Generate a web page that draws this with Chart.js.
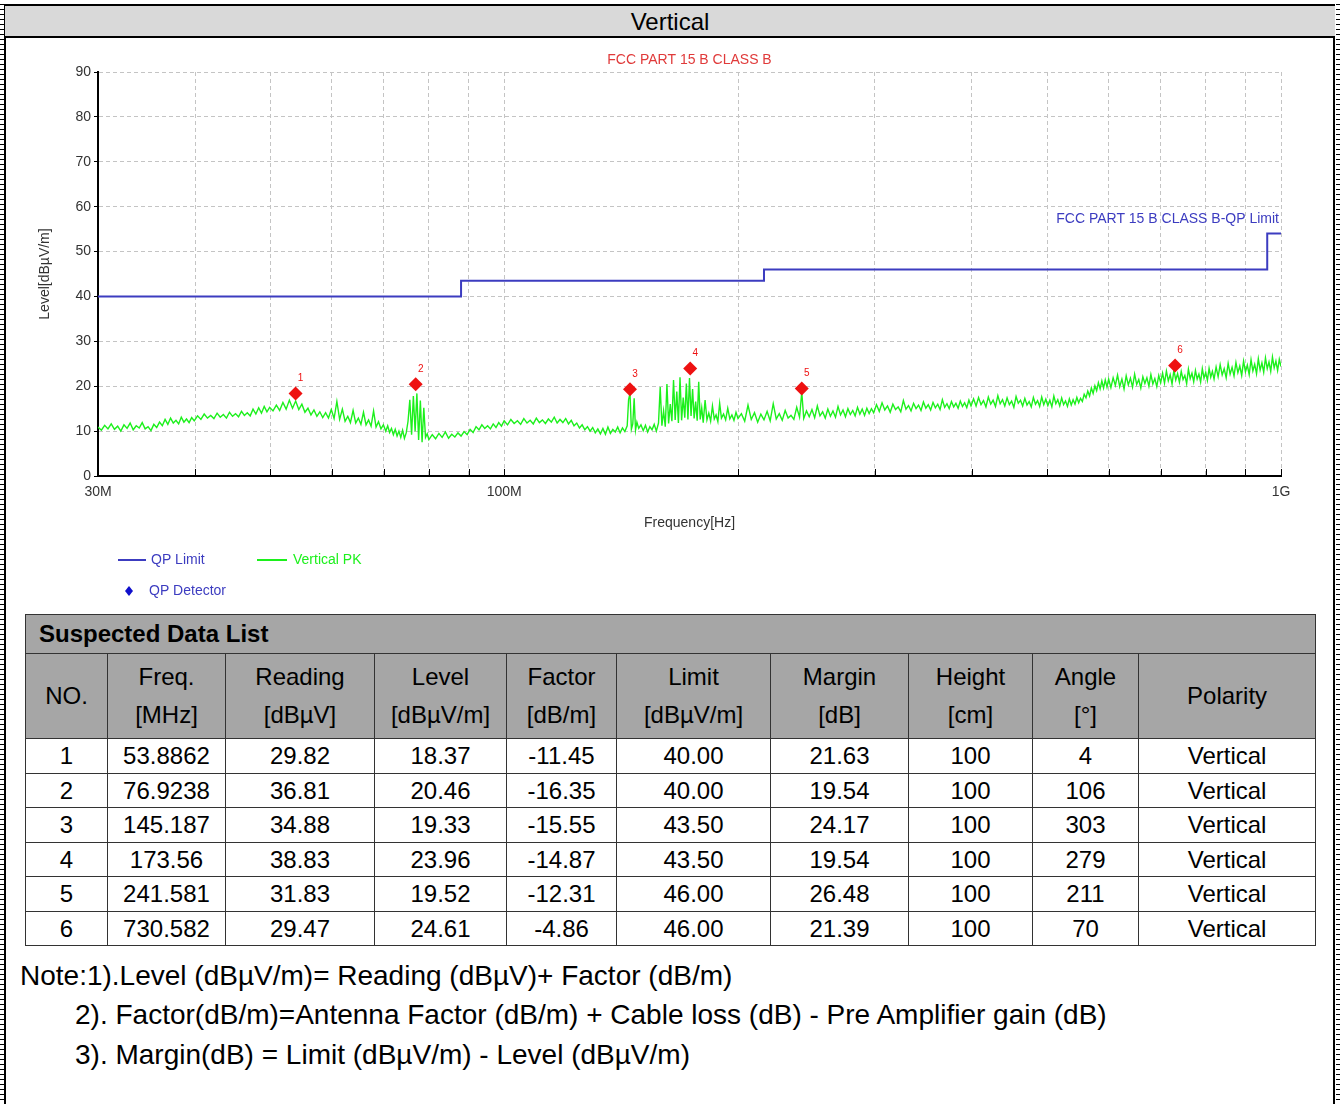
<!DOCTYPE html>
<html>
<head>
<meta charset="utf-8">
<script src="https://cdn.jsdelivr.net/npm/chart.js@4.4.0/dist/chart.umd.min.js"></script>
<style>
body { margin:0; width:1341px; height:1104px; position:relative; background:#fff; overflow:hidden;
       font-family:"Liberation Sans", Arial, sans-serif; color:#000; }
.edge { position:absolute; top:4px; width:2px; height:1100px; background:#000; }
.dash { position:absolute; top:4px; width:4px; height:1100px;
        background:repeating-linear-gradient(to bottom, #000 0 1px, transparent 1px 5px); }
#head { position:absolute; left:5px; top:4px; width:1330px; height:30px; background:#d9d9d9;
        border-top:2px solid #000; border-bottom:2px solid #000; text-align:center;
        font-size:24px; line-height:31px; }
#chart { position:absolute; left:0; top:38px; }
#list { position:absolute; left:25px; top:614px; width:1290px; border-collapse:collapse;
        table-layout:fixed; font-size:24px; }
#list th, #list td { border:1px solid #333; text-align:center; padding:0; font-weight:normal; }
#list .cap { background:#a6a6a6; height:38px; text-align:left; font-weight:bold; padding-left:13px; }
#list .hd th { background:#a6a6a6; height:84px; line-height:38px; }
#list tbody td { height:33.5px; line-height:33px; }
.note { position:absolute; font-size:28px; line-height:40px; white-space:nowrap; }
</style>
</head>
<body>
<div class="dash" style="left:0"></div>
<div class="edge" style="left:4px"></div>
<div class="edge" style="left:1333px"></div>
<div class="dash" style="left:1336px"></div>
<div id="head">Vertical</div>
<canvas id="chart" width="1341" height="570"></canvas>
<table id="list">
  <colgroup>
    <col style="width:82px"><col style="width:118px"><col style="width:149px"><col style="width:132px">
    <col style="width:110px"><col style="width:154px"><col style="width:138px"><col style="width:124px">
    <col style="width:106px"><col style="width:177px">
  </colgroup>
  <thead>
    <tr><th class="cap" colspan="10">Suspected Data List</th></tr>
    <tr class="hd" id="hdRow"></tr>
  </thead>
  <tbody id="rows"></tbody>
</table>
<div class="note" style="left:20px; top:956px">Note:1).Level (dBµV/m)= Reading (dBµV)+ Factor (dB/m)</div>
<div class="note" style="left:75px; top:995px">2). Factor(dB/m)=Antenna Factor (dB/m) + Cable loss (dB) - Pre Amplifier gain (dB)</div>
<div class="note" style="left:75px; top:1035px">3). Margin(dB) = Limit (dBµV/m) - Level (dBµV/m)</div>

<script>
// Suspected data list (QP detector results)
const tblNo = [1, 2, 3, 4, 5, 6];
const tblFreq = ['53.8862', '76.9238', '145.187', '173.56', '241.581', '730.582'];
const tblReading = ['29.82', '36.81', '34.88', '38.83', '31.83', '29.47'];
const tblLevel = ['18.37', '20.46', '19.33', '23.96', '19.52', '24.61'];
const tblFactor = ['-11.45', '-16.35', '-15.55', '-14.87', '-12.31', '-4.86'];
const tblLimit = ['40.00', '40.00', '43.50', '43.50', '46.00', '46.00'];
const tblMargin = ['21.63', '19.54', '24.17', '19.54', '26.48', '21.39'];
const tblHeight = ['100', '100', '100', '100', '100', '100'];
const tblAngle = ['4', '106', '303', '279', '211', '70'];
const tblPolarity = ['Vertical', 'Vertical', 'Vertical', 'Vertical', 'Vertical', 'Vertical'];
const tblHeaders = ['NO.', 'Freq.<br>[MHz]', 'Reading<br>[dBµV]', 'Level<br>[dBµV/m]', 'Factor<br>[dB/m]',
                    'Limit<br>[dBµV/m]', 'Margin<br>[dB]', 'Height<br>[cm]', 'Angle<br>[°]', 'Polarity'];

// QP limit line (FCC part 15 B class B)
const limitFreq = [30, 88, 88, 216, 216, 960, 960, 1000];
const limitLevel = [40, 40, 43.5, 43.5, 46, 46, 54, 54];

// axis ticks
const xGridMHz = [30, 40, 50, 60, 70, 80, 90, 100, 200, 300, 400, 500, 600, 700, 800, 900, 1000];
const xTickText = {30: '30M', 100: '100M', 1000: '1G'};
const yTicks = [0, 10, 20, 30, 40, 50, 60, 70, 80, 90];

// Vertical PK sweep [MHz, dBuV/m]
const pkTrace = [
  [30.0,10.9],[30.3,10.2],[30.6,11.3],[30.9,10.5],[31.2,11.6],[31.5,10.4],[31.8,11.1],[32.1,10.0],[32.4,11.4],[32.7,10.6],
  [33.0,11.8],[33.3,10.3],[33.6,11.2],[33.9,10.7],[34.2,11.9],[34.5,10.5],[34.8,11.0],[35.1,10.1],[35.4,11.5],[35.7,10.8],
  [36.0,12.0],[36.3,11.2],[36.6,12.6],[36.9,11.5],[37.2,12.9],[37.5,11.8],[37.8,12.4],[38.1,11.6],[38.4,13.1],[38.7,12.0],
  [39.0,12.7],[39.3,11.9],[39.6,13.0],[39.9,12.3],
  [40.3,13.4],[40.7,12.6],[41.1,13.8],[41.5,12.9],[41.9,13.5],[42.3,12.8],[42.7,14.0],[43.1,13.1],[43.5,13.7],[43.9,12.9],
  [44.3,14.2],[44.7,13.3],[45.1,13.9],[45.5,13.2],[45.9,14.4],[46.3,13.5],[46.7,14.1],[47.1,13.4],[47.5,14.9],[47.9,13.8],
  [48.3,15.2],[48.7,14.0],[49.1,15.5],[49.5,14.3],[49.9,15.3],
  [50.4,14.5],[50.9,15.8],[51.4,14.6],[51.9,16.4],[52.4,14.9],[52.9,16.9],[53.4,15.1],[53.9,16.7],[54.4,14.8],[54.9,16.0],
  [55.4,14.2],[55.9,15.1],[56.4,13.6],[56.9,14.7],[57.4,13.3],[57.9,14.3],[58.4,13.0],[58.9,14.1],[59.4,12.9],[59.9,14.8],
  [60.4,12.8],[60.9,16.6],[61.4,12.6],[61.9,14.9],[62.4,12.2],[62.9,13.3],[63.4,11.9],[63.9,14.6],[64.4,11.8],[64.9,12.9],
  [65.4,11.5],[65.9,14.2],[66.4,11.4],[66.9,12.5],[67.4,11.1],[67.9,14.5],[68.4,10.9],[68.9,12.1],[69.4,10.5],[69.9,11.4],
  [70.4,10.0],[70.8,11.2],[71.2,9.7],[71.6,10.6],[72.0,9.2],[72.4,10.4],[72.8,8.9],[73.2,10.0],[73.6,8.6],[74.0,10.2],
  [74.4,8.4],[74.8,9.6],[75.2,12.2],[75.6,17.0],[76.0,9.2],[76.4,17.8],[76.8,10.0],[77.2,18.4],[77.6,8.0],[78.0,16.8],
  [78.4,7.5],[78.8,15.2],[79.2,8.6],[79.6,9.4],[80.0,8.1],
  [80.8,9.2],[81.6,8.3],[82.4,9.5],[83.2,8.6],[84.0,9.8],[84.8,8.4],[85.6,9.3],[86.4,8.7],[87.2,9.6],[88.0,8.9],
  [88.8,9.9],[89.6,9.2],[90.4,10.4],[91.2,9.7],[92.0,11.0],[92.8,10.3],[93.6,11.4],[94.4,10.6],[95.2,11.2],[96.0,10.5],
  [96.8,11.6],[97.6,10.8],[98.4,11.9],[99.2,11.1],[100.0,12.3],
  [101,11.4],[102,12.6],[103,11.7],[104,12.3],[105,11.5],[106,12.8],[107,11.8],[108,12.4],[109,11.6],[110,12.9],
  [111,11.9],[112,12.5],[113,11.7],[114,12.7],[115,12.0],[116,13.1],[117,11.8],[118,12.6],[119,11.9],[120,12.8],
  [121,11.6],[122,12.4],[123,11.2],[124,11.8],[125,10.7],[126,11.4],[127,10.3],[128,11.0],[129,10.0],[130,10.8],
  [131,9.6],[132,10.5],[133,9.4],[134,10.6],[135,9.3],[136,10.9],[137,9.5],[138,10.4],[139,9.8],[140,10.9],
  [141,9.6],[142,10.7],[143,9.9],[144,11.2],
  [144.6,17.0],[145.2,18.4],[145.8,10.4],[146.4,11.6],[147.0,17.3],[147.6,10.2],[148.2,12.0],[149.0,10.6],[150,11.4],
  [151,10.1],[152,11.3],[153,9.8],[154,11.0],[155,10.3],[156,11.5],[157,10.0],[158,11.8],
  [158.8,19.8],[159.6,11.2],[160.4,14.5],[161.2,11.0],[162,20.5],[162.8,11.7],[163.6,16.0],[164.4,12.2],[165.2,21.4],
  [166,12.5],[166.8,18.8],[167.6,11.8],[168.4,22.0],[169.2,12.4],[170,17.5],[170.8,13.0],[171.6,20.6],[172.4,12.6],
  [173.2,21.8],[174,13.4],[174.8,19.4],[175.6,12.8],
  [176.4,16.6],[177.2,12.3],[178,21.0],[178.8,12.6],[179.6,15.2],[180.4,11.9],[181.4,16.9],[182.4,12.5],[183.4,14.0],
  [184.4,12.2],[185.4,15.6],[186.4,12.7],[187.4,13.6],[188.4,12.1],[189.4,16.2],[190.4,12.9],
  [191.6,13.8],[192.8,12.5],[194,15.1],[195.2,12.7],[196.4,13.6],[197.6,12.4],[198.8,14.2],[200,12.8],
  [202,13.9],[204,12.2],[206,15.8],[208,12.6],[210,14.1],[212,12.0],[214,13.8],[216,12.5],[218,14.4],[220,12.3],
  [222,16.1],[224,12.7],[226,13.9],[228,12.4],[230,14.6],[232,12.9],[234,13.5],[236,12.6],[238,15.3],[240,13.1],
  [241.6,18.7],[243,12.8],[245,14.5],[247,13.2],[249,14.8],[251,13.0],[253,15.6],[255,13.4],[257,14.3],[259,12.9],
  [261,14.9],[263,13.3],[265,14.5],[267,13.1],[269,15.5],[271,13.6],[273,14.7],[275,13.2],[277,15.0],[279,13.7],
  [281,14.6],[283,13.4],[285,15.3],[287,13.8],[289,14.9],[291,13.5],[293,15.1],[295,13.9],[297,15.0],[299,14.1],
  [301.5,15.9],[304,14.4],[306.5,16.3],[309,14.7],[311.5,15.6],[314,14.2],[316.5,16.0],[319,14.8],[321.5,15.4],[324,14.3],
  [326.5,16.8],[329,14.9],[331.5,15.7],[334,14.5],[336.5,16.2],[339,15.0],[341.5,15.8],[344,14.6],[346.5,16.5],[349,15.1],
  [351.5,15.9],[354,14.7],[356.5,16.4],[359,15.2],[361.5,16.0],[364,14.8],[366.5,17.0],[369,15.3],[371.5,16.1],[374,15.0],
  [376.5,16.6],[379,15.4],[381.5,16.2],[384,15.1],[386.5,16.7],[389,15.5],[391.5,16.3],[394,15.2],[396.5,16.9],[399,15.6],
  [402,17.2],[405,15.6],[408,17.5],[411,15.9],[414,16.8],[417,15.4],[420,17.6],[423,16.0],[426,16.9],[429,15.5],
  [432,17.9],[435,16.1],[438,17.0],[441,15.6],[444,17.4],[447,15.9],[450,16.7],[453,15.3],[456,17.7],[459,16.2],
  [462,16.9],[465,15.6],[468,17.3],[471,15.8],[474,16.6],[477,15.4],[480,17.5],[483,16.0],[486,16.8],[489,15.5],
  [492,17.6],[495,15.9],[498,17.1],[501,15.7],[504,16.9],[507,15.4],[510,17.8],[513,16.1],[516,17.0],[519,15.6],
  [522,17.4],[525,15.9],[528,16.7],[531,15.5],[534,17.2],[537,15.8],[540,17.0],[543,16.0],[546,17.5],[549,16.3],
  [552,17.3],[555,16.6],[558,18.2],
  [561,17.4],[564,18.9],[567,17.8],[570,19.6],[573,18.4],[576,20.1],[579,19.0],[582,20.8],[585,19.4],[588,21.2],
  [591,19.6],[594,21.4],[597,19.8],[600,21.6],
  [604,19.7],[608,21.9],[612,20.2],[616,22.5],[620,19.9],[624,21.6],[628,19.4],[632,22.3],[636,20.3],[640,21.8],
  [644,19.8],[648,22.7],[652,20.4],[656,21.5],[660,19.6],[664,22.1],[668,20.6],[672,21.9],[676,20.0],[680,22.6],
  [684,20.5],[688,21.7],[692,19.9],[696,22.4],[700,20.8],
  [704,22.9],[708,20.7],[712,23.4],[716,21.2],[720,22.6],[724,20.5],[728,23.6],[732,21.4],[736,22.8],[740,20.9],
  [744,23.3],[748,21.5],[752,22.4],[756,20.6],[760,23.8],[764,21.7],[768,22.9],[772,21.0],[776,23.5],[780,21.6],
  [784,22.7],[788,20.9],[792,23.9],[796,21.8],[800,23.1],[804,21.3],[808,24.0],[812,22.0],[816,23.3],[820,21.6],
  [825,24.3],[830,22.1],[835,24.8],[840,22.5],[845,23.9],[850,21.9],[855,25.1],[860,22.7],[865,24.2],[870,22.3],
  [875,25.3],[880,23.0],[885,24.5],[890,22.4],[895,25.6],[900,23.2],[905,24.7],[910,22.6],[915,25.9],[920,23.4],
  [925,24.9],[930,22.8],[935,26.1],[940,23.6],[945,25.2],[950,23.1],[955,26.3],[960,23.9],[965,25.4],[970,23.3],
  [975,26.5],[980,24.1],[985,25.6],[990,23.5],[995,26.0],[1000,24.4]
];

const chartTitle = 'FCC PART 15 B CLASS B';
const limitTitle = 'FCC PART 15 B CLASS B-QP Limit';
const FONT = '"Liberation Sans", Arial, sans-serif';
const BLUE = '#3c3cc0';
const GREEN = '#1cf01c';
const RED = '#ee1111';

// table
document.getElementById('hdRow').innerHTML = tblHeaders.map(h => '<th>' + h + '</th>').join('');
let html = '';
for (let i = 0; i < tblNo.length; i++) {
  html += '<tr>' + [tblNo[i], tblFreq[i], tblReading[i], tblLevel[i], tblFactor[i], tblLimit[i],
    tblMargin[i], tblHeight[i], tblAngle[i], tblPolarity[i]].map(v => '<td>' + v + '</td>').join('') + '</tr>';
}
document.getElementById('rows').innerHTML = html;

// titles, labels, legend
const decorations = {
  id: 'decorations',
  afterDraw(chart) {
    const {ctx, chartArea: a, scales: {x, y}} = chart;
    ctx.save();
    ctx.strokeStyle = '#000';
    ctx.lineWidth = 1;
    xGridMHz.forEach(f => {
      const px = Math.round(x.getPixelForValue(f)) + 0.5;
      ctx.beginPath(); ctx.moveTo(px, a.bottom); ctx.lineTo(px, a.bottom - 7); ctx.stroke();
    });

    ctx.font = '14px ' + FONT;
    ctx.textBaseline = 'middle';
    ctx.textAlign = 'center';
    ctx.fillStyle = '#e03a3a';
    ctx.fillText(chartTitle, (a.left + a.right) / 2, 22);
    ctx.fillStyle = BLUE;
    ctx.textAlign = 'right';
    ctx.fillText(limitTitle, a.right - 2, y.getPixelForValue(54) - 14);

    ctx.fillStyle = '#333';
    ctx.textAlign = 'center';
    ctx.fillText('Frequency[Hz]', (a.left + a.right) / 2, 485);
    ctx.save();
    ctx.translate(45, (a.top + a.bottom) / 2);
    ctx.rotate(-Math.PI / 2);
    ctx.fillText('Level[dBµV/m]', 0, 0);
    ctx.restore();

    // marker numbers
    ctx.font = '10px ' + FONT;
    ctx.fillStyle = RED;
    tblNo.forEach((n, i) => {
      ctx.fillText(String(n), x.getPixelForValue(+tblFreq[i]) + 5, y.getPixelForValue(+tblLevel[i]) - 15);
    });

    // legend
    ctx.font = '14px ' + FONT;
    ctx.textAlign = 'left';
    ctx.lineWidth = 2;
    ctx.strokeStyle = BLUE;
    ctx.beginPath(); ctx.moveTo(118, 522); ctx.lineTo(146, 522); ctx.stroke();
    ctx.fillStyle = BLUE;
    ctx.fillText('QP Limit', 151, 522);
    ctx.strokeStyle = GREEN;
    ctx.beginPath(); ctx.moveTo(257, 522); ctx.lineTo(287, 522); ctx.stroke();
    ctx.fillStyle = GREEN;
    ctx.fillText('Vertical PK', 293, 522);
    ctx.fillStyle = '#1010cc';
    ctx.beginPath();
    ctx.moveTo(129, 548); ctx.lineTo(133, 553); ctx.lineTo(129, 558); ctx.lineTo(125, 553);
    ctx.closePath(); ctx.fill();
    ctx.fillStyle = BLUE;
    ctx.fillText('QP Detector', 149, 553);
    ctx.restore();
  }
};

new Chart(document.getElementById('chart'), {
  type: 'line',
  data: {
    datasets: [
      {
        label: 'QP Detector',
        data: tblFreq.map((f, i) => ({x: +f, y: +tblLevel[i]})),
        showLine: false,
        pointStyle: 'rectRot',
        pointRadius: 7,
        pointBackgroundColor: RED,
        pointBorderColor: RED,
        pointBorderWidth: 0,
        order: 0
      },
      {
        label: 'QP Limit',
        data: limitFreq.map((f, i) => ({x: f, y: limitLevel[i]})),
        borderColor: BLUE,
        borderWidth: 2,
        pointRadius: 0,
        order: 1
      },
      {
        label: 'Vertical PK',
        data: pkTrace.map(p => ({x: p[0], y: p[1]})),
        borderColor: GREEN,
        borderWidth: 1.4,
        pointRadius: 0,
        order: 2
      }
    ]
  },
  options: {
    responsive: false,
    animation: false,
    devicePixelRatio: 1,
    layout: { padding: { left: 30, right: 60, top: 34, bottom: 0 } },
    plugins: { legend: { display: false }, tooltip: { enabled: false } },
    scales: {
      x: {
        type: 'logarithmic',
        min: 30,
        max: 1000,
        afterBuildTicks: s => { s.ticks = xGridMHz.map(v => ({value: v})); },
        afterFit: s => { s.height = 132; },
        ticks: {
          autoSkip: false,
          maxRotation: 0,
          padding: 8,
          color: '#333',
          font: { family: FONT, size: 14 },
          callback: v => xTickText[v] || ''
        },
        grid: { color: '#c4c4c4', lineWidth: 1, drawTicks: false },
        border: { color: '#000', width: 2, dash: [4, 3] }
      },
      y: {
        min: 0,
        max: 90,
        afterBuildTicks: s => { s.ticks = yTicks.map(v => ({value: v})); },
        afterFit: s => { s.width = 68; },
        ticks: { padding: 3, color: '#333', font: { family: FONT, size: 14 } },
        grid: { color: '#c4c4c4', lineWidth: 1, tickLength: 4, tickColor: '#000' },
        border: { color: '#000', width: 2, dash: [4, 3] }
      }
    }
  },
  plugins: [decorations]
});
</script>
</body>
</html>
